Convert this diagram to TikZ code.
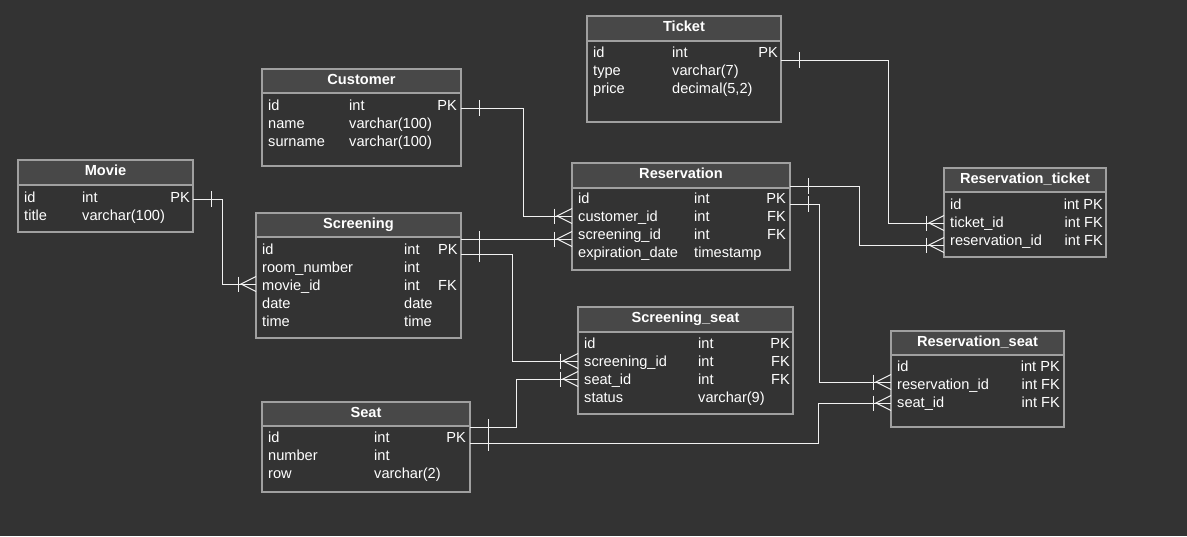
\documentclass[tikz,border=0pt]{standalone}
\usepackage{fontspec}
\setmainfont{Liberation Sans}
\usetikzlibrary{calc}
\definecolor{bgc}{HTML}{333333}
\definecolor{headc}{HTML}{484848}
\definecolor{borderc}{HTML}{A0A0A0}
\definecolor{linec}{HTML}{F2F2F2}
\tikzset{
  tablebox/.style={draw=borderc, line width=1.2pt, fill=bgc, inner sep=0pt, outer sep=0pt},
  tableborder/.style={draw=borderc, line width=1.2pt},
  headtext/.style={text=white, font=\fontsize{14.6}{18}\selectfont\bfseries, inner sep=0pt},
  fl/.style={text=white, font=\fontsize{14.6}{18}\selectfont, inner sep=0pt, anchor=base west},
  flr/.style={text=white, font=\fontsize{14.6}{18}\selectfont, inner sep=0pt, anchor=base east},
  conn/.style={draw=linec, line width=1pt},
}
\newcommand\ertable[7]{%
  \node[tablebox, anchor=north west, minimum width={(#4-#2)*1pt}, minimum height={(#5-#3)*1pt}] (#1) at (#2,#3) {};
  \draw[tableborder, fill=headc] (#2,#3) rectangle (#4,#6);
  \node[headtext, anchor=base] (#1-title) at ({(#2+#4)/2},{(#3+#6)/2+3}) {#7};
}
\newcommand\crowfoot[1]{%
  \draw[conn] ($(#1)+(-18,-7.5)$) -- ($(#1)+(-18,7.5)$);
  \draw[conn] ($(#1)+(0,-7.5)$) -- ($(#1)+(-15,0)$) -- ($(#1)+(0,7.5)$);
}
\newcommand\onetick[1]{%
  \draw[conn] ($(#1)+(18,-8)$) -- ($(#1)+(18,8)$);
}
\begin{document}
\begin{tikzpicture}[x=1pt, y=-1pt]
\useasboundingbox (0,0) rectangle (1187,536);
\fill[bgc] (0,0) rectangle (1187,536);

% ---------- Movie ----------
\ertable{movie}{18}{160}{193}{232}{185}{Movie}
\node[fl] (mv1a) at (24,202) {id};
\node[fl] (mv1b) at (82,202) {int};
\node[flr] (mv1c) at (190,202) {PK};
\node[fl] (mv2a) at (24,220) {title};
\node[fl] (mv2b) at (82,220) {varchar(100)};

% ---------- Customer ----------
\ertable{customer}{262}{69}{461}{166}{93}{Customer}
\node[fl] (cu1a) at (268,110) {id};
\node[fl] (cu1b) at (349,110) {int};
\node[flr] (cu1c) at (457,110) {PK};
\node[fl] (cu2a) at (268,128) {name};
\node[fl] (cu2b) at (349,128) {varchar(100)};
\node[fl] (cu3a) at (268,146) {surname};
\node[fl] (cu3b) at (349,146) {varchar(100)};

% ---------- Ticket ----------
\ertable{ticket}{587}{16}{781}{122}{41}{Ticket}
\node[fl] (tk1a) at (593,57) {id};
\node[fl] (tk1b) at (672,57) {int};
\node[flr] (tk1c) at (778,57) {PK};
\node[fl] (tk2a) at (593,75) {type};
\node[fl] (tk2b) at (672,75) {varchar(7)};
\node[fl] (tk3a) at (593,93) {price};
\node[fl] (tk3b) at (672,93) {decimal(5,2)};

% ---------- Screening ----------
\ertable{screening}{256}{213}{461}{338}{237}{Screening}
\node[fl] (sc1a) at (262,254) {id};
\node[fl] (sc1b) at (404,254) {int};
\node[fl] (sc1c) at (438,254) {PK};
\node[fl] (sc2a) at (262,272) {room\_number};
\node[fl] (sc2b) at (404,272) {int};
\node[fl] (sc3a) at (262,290) {movie\_id};
\node[fl] (sc3b) at (404,290) {int};
\node[fl] (sc3c) at (438,290) {FK};
\node[fl] (sc4a) at (262,308) {date};
\node[fl] (sc4b) at (404,308) {date};
\node[fl] (sc5a) at (262,326) {time};
\node[fl] (sc5b) at (404,326) {time};

% ---------- Reservation ----------
\ertable{reservation}{572}{163}{790}{270}{188}{Reservation}
\node[fl] (rs1a) at (578,203) {id};
\node[fl] (rs1b) at (694,203) {int};
\node[flr] (rs1c) at (786,203) {PK};
\node[fl] (rs2a) at (578,221) {customer\_id};
\node[fl] (rs2b) at (694,221) {int};
\node[flr] (rs2c) at (786,221) {FK};
\node[fl] (rs3a) at (578,239) {screening\_id};
\node[fl] (rs3b) at (694,239) {int};
\node[flr] (rs3c) at (786,239) {FK};
\node[fl] (rs4a) at (578,257) {expiration\_date};
\node[fl] (rs4b) at (694,257) {timestamp};

% ---------- Reservation_ticket ----------
\ertable{resticket}{944}{168}{1106}{257}{192}{Reservation\_ticket}
\node[fl] (rt1a) at (950,209) {id};
\node[flr] (rt1b) at (1103,209) {int PK};
\node[fl] (rt2a) at (950,227) {ticket\_id};
\node[flr] (rt2b) at (1103,227) {int FK};
\node[fl] (rt3a) at (950,245) {reservation\_id};
\node[flr] (rt3b) at (1103,245) {int FK};

% ---------- Screening_seat ----------
\ertable{scrseat}{578}{307}{793}{414}{332}{Screening\_seat}
\node[fl] (ss1a) at (584,348) {id};
\node[fl] (ss1b) at (698,348) {int};
\node[flr] (ss1c) at (790,348) {PK};
\node[fl] (ss2a) at (584,366) {screening\_id};
\node[fl] (ss2b) at (698,366) {int};
\node[flr] (ss2c) at (790,366) {FK};
\node[fl] (ss3a) at (584,384) {seat\_id};
\node[fl] (ss3b) at (698,384) {int};
\node[flr] (ss3c) at (790,384) {FK};
\node[fl] (ss4a) at (584,402) {status};
\node[fl] (ss4b) at (698,402) {varchar(9)};

% ---------- Seat ----------
\ertable{seat}{262}{402}{470}{492}{426}{Seat}
\node[fl] (st1a) at (268,442) {id};
\node[fl] (st1b) at (374,442) {int};
\node[flr] (st1c) at (466,442) {PK};
\node[fl] (st2a) at (268,460) {number};
\node[fl] (st2b) at (374,460) {int};
\node[fl] (st3a) at (268,478) {row};
\node[fl] (st3b) at (374,478) {varchar(2)};

% ---------- Reservation_seat ----------
\ertable{resseat}{891}{331}{1064}{427}{355}{Reservation\_seat}
\node[fl] (rse1a) at (897,371) {id};
\node[flr] (rse1b) at (1060,371) {int PK};
\node[fl] (rse2a) at (897,389) {reservation\_id};
\node[flr] (rse2b) at (1060,389) {int FK};
\node[fl] (rse3a) at (897,407) {seat\_id};
\node[flr] (rse3b) at (1060,407) {int FK};

% ---------- connector end points ----------
\coordinate (mv-id) at (movie.east |- 0,199);
\coordinate (sc-movie) at (screening.west |- 0,284);
\coordinate (cu-id) at (customer.east |- 0,108);
\coordinate (rs-cust) at (reservation.west |- 0,216);
\coordinate (sc-id-a) at (screening.east |- 0,239);
\coordinate (rs-scr) at (reservation.west |- 0,239);
\coordinate (sc-id-b) at (screening.east |- 0,254);
\coordinate (ss-scr) at (scrseat.west |- 0,361);
\coordinate (st-id-a) at (seat.east |- 0,427);
\coordinate (ss-seat) at (scrseat.west |- 0,379);
\coordinate (st-id-b) at (seat.east |- 0,443);
\coordinate (rse-seat) at (resseat.west |- 0,403);
\coordinate (rs-id-a) at (reservation.east |- 0,186);
\coordinate (rt-res) at (resticket.west |- 0,245);
\coordinate (rs-id-b) at (reservation.east |- 0,204);
\coordinate (rse-res) at (resseat.west |- 0,382);
\coordinate (tk-id) at (ticket.east |- 0,60);
\coordinate (rt-tk) at (resticket.west |- 0,223);

% ---------- connectors ----------
\draw[conn] (mv-id) -- ++(29,0) |- (sc-movie);
\onetick{mv-id} \crowfoot{sc-movie}

\draw[conn] (cu-id) -- ++(62,0) |- (rs-cust);
\onetick{cu-id} \crowfoot{rs-cust}

\draw[conn] (sc-id-a) -- (rs-scr);
\onetick{sc-id-a} \crowfoot{rs-scr}

\draw[conn] (sc-id-b) -- ++(51,0) |- (ss-scr);
\onetick{sc-id-b} \crowfoot{ss-scr}

\draw[conn] (st-id-a) -- ++(46,0) |- (ss-seat);
\onetick{st-id-a} \crowfoot{ss-seat}

\draw[conn] (st-id-b) -- ++(348,0) |- (rse-seat);
\onetick{st-id-b} \crowfoot{rse-seat}

\draw[conn] (rs-id-a) -- ++(69,0) |- (rt-res);
\onetick{rs-id-a} \crowfoot{rt-res}

\draw[conn] (rs-id-b) -- ++(29,0) |- (rse-res);
\onetick{rs-id-b} \crowfoot{rse-res}

\draw[conn] (tk-id) -- ++(107,0) |- (rt-tk);
\onetick{tk-id} \crowfoot{rt-tk}
\end{tikzpicture}
\end{document}
